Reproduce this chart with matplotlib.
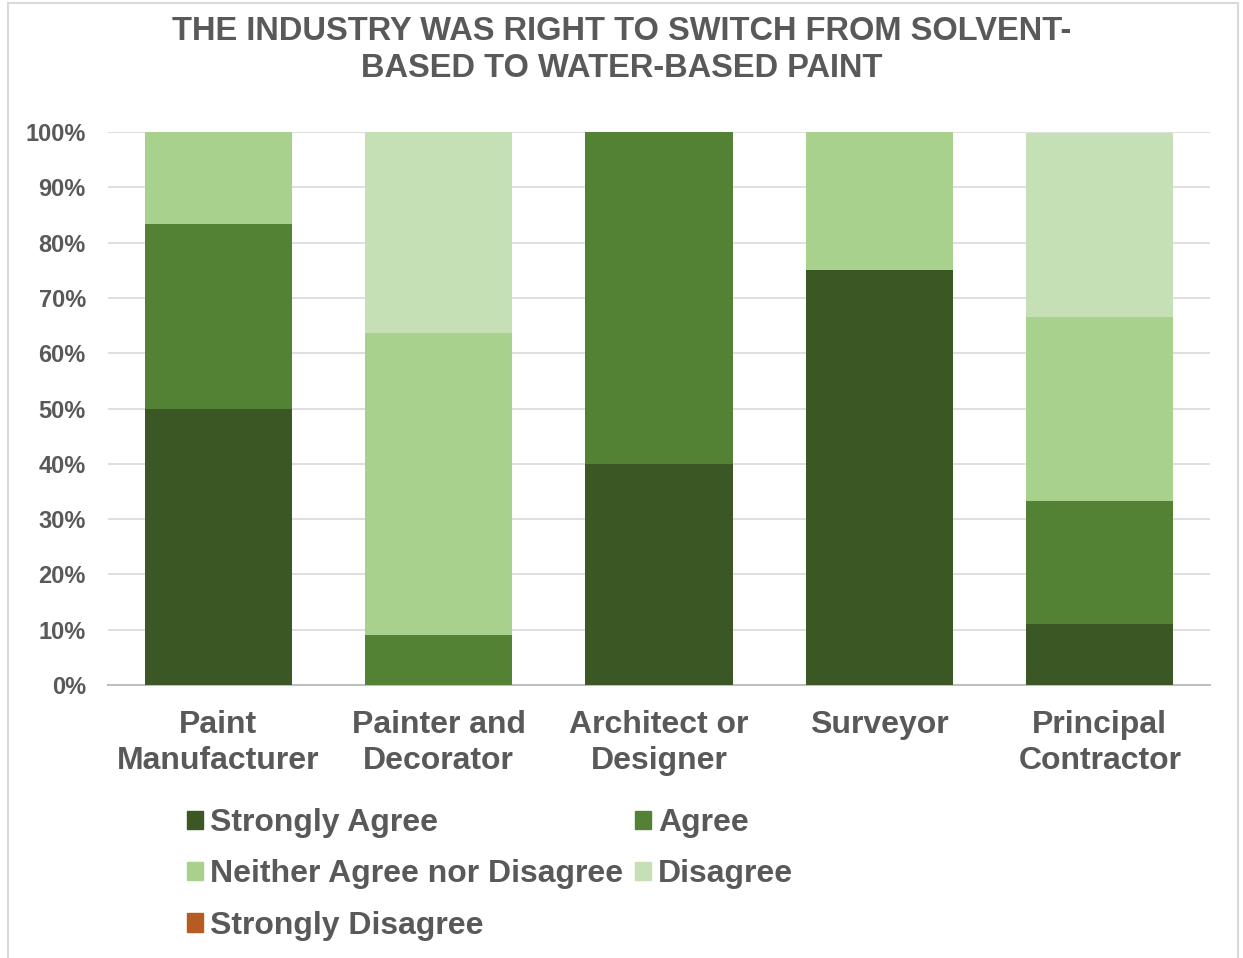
import matplotlib
matplotlib.use("Agg")
import matplotlib.pyplot as plt
import matplotlib.patches as mpatches
import numpy as np

categories = ["Paint\nManufacturer", "Painter and\nDecorator", "Architect or\nDesigner", "Surveyor", "Principal\nContractor"]
series_names = ["Strongly Agree", "Agree", "Neither Agree nor Disagree", "Disagree", "Strongly Disagree"]
strongly_agree = [50.0, 0.0, 40.0, 75.0, 11.1]
agree = [33.3, 9.1, 60.0, 0.0, 22.2]
neither = [16.7, 54.5, 0.0, 25.0, 33.3]
disagree = [0.0, 36.4, 0.0, 0.0, 33.3]
strongly_disagree = [0.0, 0.0, 0.0, 0.0, 0.0]
colors = ["#3A5724", "#548235", "#A9D18E", "#C5E0B4", "#B65C22"]

text_color = "#595959"
plt.rcParams["font.family"] = ["Liberation Sans", "DejaVu Sans"]
plt.rcParams["font.weight"] = "bold"

W, H = 1243, 958
fig = plt.figure(figsize=(W / 100, H / 100), dpi=100)

# outer chart border
fig.patches.append(mpatches.Rectangle((8 / W, -0.01), (1238 - 8) / W, (H - 3) / H + 0.01,
                                      transform=fig.transFigure, fill=False,
                                      edgecolor="#D9D9D9", linewidth=1.5))

ax = fig.add_axes([108 / W, 1 - 685 / H, (1210 - 108) / W, (685 - 132) / H])

x = np.arange(len(categories))
bottom = np.zeros(len(categories))
series = [strongly_agree, agree, neither, disagree, strongly_disagree]
handles = []
for name, vals, c in zip(series_names, series, colors):
    vals = np.array(vals)
    ax.bar(x, vals, 0.667, bottom=bottom, color=c, zorder=3)
    bottom += vals
    handles.append(mpatches.Patch(color=c, label=name))

ax.set_xlim(-0.5, len(categories) - 0.5)
ax.set_ylim(0, 100)
ax.set_yticks(np.arange(0, 101, 10))
ax.set_yticklabels([f"{v}%" for v in range(0, 101, 10)])
ax.grid(axis="y", color="#D9D9D9", linewidth=1.2, zorder=0)
for s in ["top", "right", "left"]:
    ax.spines[s].set_visible(False)
ax.spines["bottom"].set_color("#BFBFBF")
ax.spines["bottom"].set_linewidth(1.5)
ax.tick_params(axis="y", length=0, labelsize=17, labelcolor=text_color, pad=16)
ax.tick_params(axis="x", length=0, labelsize=23, labelcolor=text_color, pad=18)
ax.set_xticks(x)
ax.set_xticklabels(categories, linespacing=1.25, va="top")

fig.text(0.5, 1 - 50 / H, "THE INDUSTRY WAS RIGHT TO SWITCH FROM SOLVENT-\nBASED TO WATER-BASED PAINT",
         ha="center", va="center", fontsize=23.5, color=text_color, fontweight="bold",
         linespacing=1.25)

order = [0, 2, 4, 1, 3]
leg = fig.legend([handles[i] for i in order], [series_names[i] for i in order],
                 loc="upper left", bbox_to_anchor=(187 / W, 1 - 808 / H), ncol=2,
                 frameon=False, fontsize=23, handlelength=0.5, handleheight=0.5,
                 handletextpad=0.22, columnspacing=0.38, labelspacing=0.67,
                 borderpad=0, borderaxespad=0)
for t in leg.get_texts():
    t.set_color(text_color)

fig.savefig("out.png", dpi=100)
